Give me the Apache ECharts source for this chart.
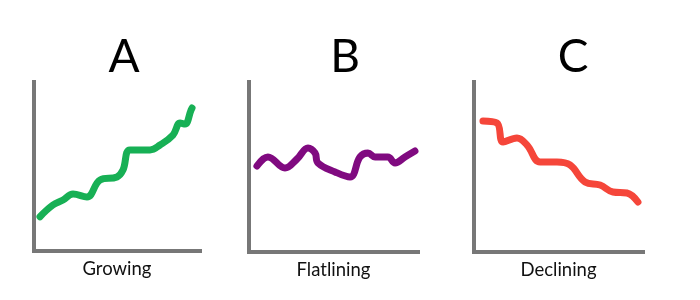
<!DOCTYPE html>
<html><head><meta charset="utf-8">
<script src="https://cdn.jsdelivr.net/npm/echarts@6/dist/echarts.min.js"></script>
<style>html,body{margin:0;padding:0;background:#fff}#c{width:700px;height:300px}</style>
</head><body><div id="c"></div>
<script>
const titles = ['A', 'B', 'C'];
const labels = ['Growing', 'Flatlining', 'Declining'];
const colors = ['#17b055', '#800a80', '#f5463a'];
const growing = [[3.6,20.3],[11.4,27.2],[17.5,30.2],[23.5,33.7],[31.9,32.0],[39.8,42.0],[50.0,43.8],[53.6,47.9],[57.8,59.8],[69.9,59.8],[75.9,62.7],[83.7,68.6],[88.0,75.7],[91.0,75.1],[94.6,83.4],[95.2,84.6]];
const flatlining = [[4.7,50.6],[11.2,55.9],[21.3,49.4],[28.4,54.7],[34.9,61.2],[39.1,58.2],[40.8,52.4],[50.9,47.1],[59.8,44.1],[65.7,55.9],[70.4,58.2],[74.6,55.9],[82.2,55.9],[86.4,52.4],[92.3,55.9],[98.2,59.4]];
const declining = [[5.3,77.1],[13.6,75.9],[17.2,64.7],[25.4,67.1],[31.4,62.9],[39.1,52.9],[49.1,52.9],[56.8,51.2],[65.7,41.2],[74.6,39.4],[82.2,35.3],[90.5,34.7],[97.0,29.4]];
const seriesData = [growing, flatlining, declining];

const grids = [
  {left: 34, top: 82, width: 166, height: 169},
  {left: 249, top: 82, width: 169, height: 170},
  {left: 474, top: 82, width: 169, height: 170}
];
const titleX = [124, 345, 573];
const axisColor = '#777777';
const font = 'Lato';

const chart = echarts.init(document.getElementById('c'), null, {renderer: 'canvas'});
chart.setOption({
  animation: false,
  grid: grids,
  xAxis: grids.map((g, i) => ({
    type: 'value', gridIndex: i, min: 0, max: 100,
    axisLine: {show: true, lineStyle: {color: axisColor, width: 4, cap: 'square'}},
    axisTick: {show: false}, axisLabel: {show: false}, splitLine: {show: false},
    name: labels[i], nameLocation: 'middle', nameGap: 9,
    nameTextStyle: {fontFamily: font, fontSize: 18.5, color: '#111'}
  })),
  yAxis: grids.map((g, i) => ({
    type: 'value', gridIndex: i, min: 0, max: 100,
    axisLine: {show: true, lineStyle: {color: axisColor, width: 4, cap: 'square'}},
    axisTick: {show: false}, axisLabel: {show: false}, splitLine: {show: false}
  })),
  series: seriesData.map((d, i) => ({
    type: 'line', xAxisIndex: i, yAxisIndex: i, data: d,
    smooth: 0.4, showSymbol: false, symbol: 'none',
    lineStyle: {color: colors[i], width: 7, cap: 'round', join: 'round'}
  })),
  graphic: titles.map((t, i) => ({
    type: 'text', x: titleX[i], y: 57,
    style: {text: t, fontFamily: font, fontSize: 46, fill: '#000', align: 'center', verticalAlign: 'middle'}
  }))
});
</script></body></html>
